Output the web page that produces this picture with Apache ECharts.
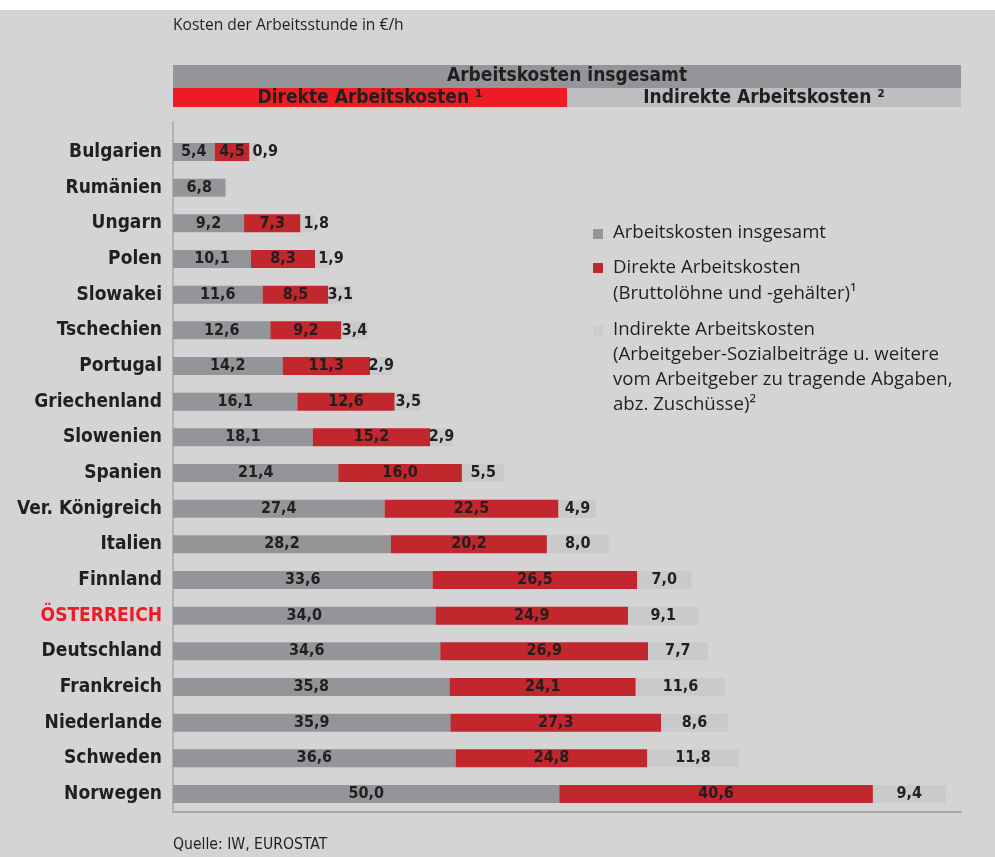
<!DOCTYPE html>
<html>
<head>
<meta charset="utf-8">
<script src="https://cdn.jsdelivr.net/npm/echarts@6/dist/echarts.min.js"></script>
<style>
html,body{margin:0;padding:0;background:#fff;}
#chart{width:995px;height:857px;}
</style>
</head>
<body>
<div id="chart"></div>
<script>
const categories = ['Bulgarien','Rumänien','Ungarn','Polen','Slowakei','Tschechien','Portugal','Griechenland','Slowenien','Spanien','Ver. Königreich','Italien','Finnland','ÖSTERREICH','Deutschland','Frankreich','Niederlande','Schweden','Norwegen'];
const totalCost = [5.4,6.8,9.2,10.1,11.6,12.6,14.2,16.1,18.1,21.4,27.4,28.2,33.6,34.0,34.6,35.8,35.9,36.6,50.0];
const directCost = [4.5,null,7.3,8.3,8.5,9.2,11.3,12.6,15.2,16.0,22.5,20.2,26.5,24.9,26.9,24.1,27.3,24.8,40.6];
const indirectCost = [0.9,null,1.8,1.9,3.1,3.4,2.9,3.5,2.9,5.5,4.9,8.0,7.0,9.1,7.7,11.6,8.6,11.8,9.4];
const highlight = 'ÖSTERREICH';

const COND = "'Liberation Sans Narrow','DejaVu Sans Condensed',sans-serif";
const REG = "'Open Sans',sans-serif";
const DARK = '#231f20';
const fmt = v => (v == null ? '' : v.toFixed(1).replace('.', ','));

const chart = echarts.init(document.getElementById('chart'), null, {renderer:'canvas'});

const valLabel = {show:true, position:'inside', color:DARK, fontFamily:COND, fontWeight:'bold', fontSize:16,
  formatter: p => fmt(p.value)};

const option = {
  backgroundColor: '#fff',
  animation: false,
  grid: {left:173, right:34, top:134.2, bottom:45.2, containLabel:false},
  xAxis: {type:'value', min:0, max:102, axisLabel:{show:false}, splitLine:{show:false}, axisTick:{show:false},
    axisLine:{show:true, lineStyle:{color:'#a9a9a9', width:2}}},
  yAxis: {type:'category', inverse:true,
    data: categories.map(c => c === highlight ? {value:c, textStyle:{color:'#ed1c24'}} : c),
    axisTick:{show:false},
    axisLine:{show:true, lineStyle:{color:'#a9a9a9', width:1.5}},
    axisLabel:{margin:11, color:DARK, fontFamily:COND, fontWeight:'bold', fontSize:19}},
  graphic: [
    {type:'rect', left:0, top:10, z:-10, shape:{width:995, height:847}, style:{fill:'#d4d4d4'}},
    {type:'line', shape:{x1:173, y1:121, x2:173, y2:135}, style:{stroke:'#a9a9a9', lineWidth:1.5}},
    {type:'text', left:173, top:18, style:{text:'Kosten der Arbeitsstunde in €/h', font:"15.6px "+REG, fill:DARK}},
    {type:'rect', shape:{x:173, y:65, width:788, height:23}, style:{fill:'#939598'}},
    {type:'rect', shape:{x:173, y:88, width:394, height:19}, style:{fill:'#ed1c24'}},
    {type:'rect', shape:{x:567, y:88, width:394, height:19}, style:{fill:'#bcbec0'}},
    {type:'text', x:567, y:76.5, style:{text:'Arbeitskosten insgesamt', font:"bold 19px "+COND, fill:DARK, align:'center', verticalAlign:'middle'}},
    {type:'text', x:370, y:98, style:{text:'Direkte Arbeitskosten ¹', font:"bold 19px "+COND, fill:DARK, align:'center', verticalAlign:'middle'}},
    {type:'text', x:764, y:98, style:{text:'Indirekte Arbeitskosten ²', font:"bold 19px "+COND, fill:DARK, align:'center', verticalAlign:'middle'}},
    {type:'rect', shape:{x:593, y:229, width:10, height:10}, style:{fill:'#939598'}},
    {type:'rect', shape:{x:593, y:263, width:10, height:10}, style:{fill:'#c1272d'}},
    {type:'rect', shape:{x:593, y:326, width:10, height:10}, style:{fill:'#cbcccd'}},
    {type:'text', x:613, y:233, style:{text:'Arbeitskosten insgesamt', font:"18.6px "+REG, fill:DARK, verticalAlign:'middle'}},
    {type:'text', x:613, top:255, style:{text:'Direkte Arbeitskosten\n(Bruttolöhne und -gehälter)¹', font:"18.6px "+REG, lineHeight:25.5, fill:DARK}},
    {type:'text', x:613, top:317, style:{text:'Indirekte Arbeitskosten\n(Arbeitgeber-Sozialbeiträge u. weitere\nvom Arbeitgeber zu tragende Abgaben,\nabz. Zuschüsse)²', font:"18.6px "+REG, lineHeight:25, fill:DARK}},
    {type:'text', left:173, top:837, style:{text:'Quelle: IW, EUROSTAT', font:"15.6px "+COND, fill:DARK}}
  ],
  series: [
    {name:'Arbeitskosten insgesamt', type:'bar', stack:'a', barWidth:18, data: totalCost,
      itemStyle:{color:'#939598'}, label: valLabel},
    {name:'Direkte Arbeitskosten', type:'bar', stack:'a', barWidth:18, data: directCost,
      itemStyle:{color:'#c1272d'}, label: valLabel},
    {name:'Indirekte Arbeitskosten', type:'bar', stack:'a', barWidth:18,
      data: indirectCost.map(v => (v != null && v < 2.5) ? {value:v, label:{position:'insideLeft', distance:3}} : v),
      itemStyle:{color:'#c9cacc'}, label: valLabel}
  ]
};
chart.setOption(option);
</script>
</body>
</html>
